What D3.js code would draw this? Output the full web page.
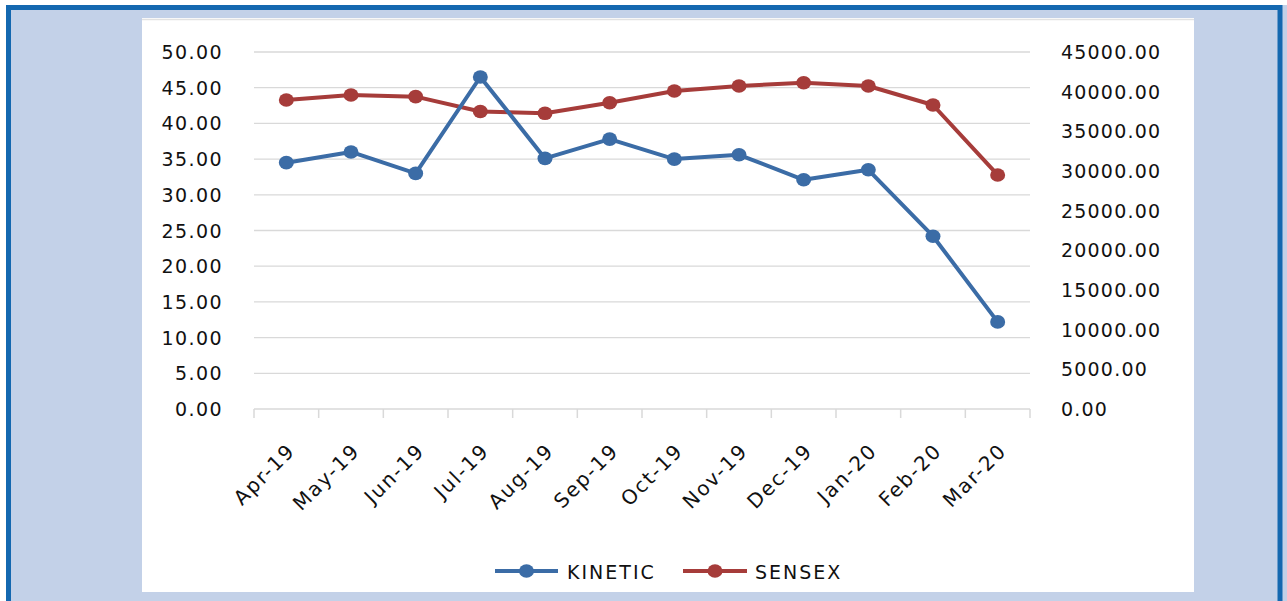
<!DOCTYPE html>
<html>
<head>
<meta charset="utf-8">
<script src="https://cdn.jsdelivr.net/npm/d3@7"></script>
<style>
  html, body { margin: 0; padding: 0; background: #ffffff; }
  svg { display: block; }
  text { font-family: "DejaVu Sans", Verdana, sans-serif; fill: #111111; }
</style>
</head>
<body>
<svg id="chart" width="1287" height="601"></svg>
<script>
const categories = ["Apr-19","May-19","Jun-19","Jul-19","Aug-19","Sep-19","Oct-19","Nov-19","Dec-19","Jan-20","Feb-20","Mar-20"];
const kinetic = [34.5, 36.0, 33.0, 46.5, 35.1, 37.8, 35.0, 35.6, 32.1, 33.5, 24.2, 12.2];
const sensex = [38950, 39580, 39370, 37500, 37270, 38610, 40080, 40710, 41130, 40710, 38320, 29500];
const leftTicks = [0, 5, 10, 15, 20, 25, 30, 35, 40, 45, 50];
const rightTicks = [0, 5000, 10000, 15000, 20000, 25000, 30000, 35000, 40000, 45000];
const seriesNames = ["KINETIC", "SENSEX"];

const BLUE = "#3b6ca6", RED = "#a63c3a";
const svg = d3.select("#chart");

// frame
svg.append("rect").attr("x", 6).attr("y", 5).attr("width", 1281).attr("height", 600).attr("fill", "#c3d1e8");
svg.append("rect").attr("x", 8.5).attr("y", 7.5).attr("width", 1271.5).attr("height", 600)
  .attr("fill", "none").attr("stroke", "#1468b0").attr("stroke-width", 5);
svg.append("rect").attr("x", 142).attr("y", 18).attr("width", 1052).attr("height", 574).attr("fill", "#ffffff");
svg.append("line").attr("x1", 142).attr("x2", 1194).attr("y1", 19.5).attr("y2", 19.5)
  .attr("stroke", "#e2e2e2").attr("stroke-width", 1.5);

const x = d3.scaleBand().domain(categories).range([254, 1030]).padding(0);
const yL = d3.scaleLinear().domain([0, 50]).range([409, 52]);
const yR = d3.scaleLinear().domain([0, 45000]).range([409, 52]);
const cx = d => x(d) + x.bandwidth() / 2;

// gridlines
svg.append("g").selectAll("line").data(leftTicks.filter(t => t > 0)).join("line")
  .attr("x1", 254).attr("x2", 1030)
  .attr("y1", d => yL(d)).attr("y2", d => yL(d))
  .attr("stroke", "#d9d9d9").attr("stroke-width", 1.3);

// x axis
const xAxis = svg.append("g").attr("transform", "translate(0,409)");
xAxis.append("line").attr("x1", 254).attr("x2", 1030).attr("y1", 0).attr("y2", 0)
  .attr("stroke", "#d9d9d9").attr("stroke-width", 1.5);
const bounds = categories.map(c => x(c)).concat([x(categories[categories.length - 1]) + x.bandwidth()]);
xAxis.selectAll("line.tick").data(bounds).join("line").attr("class", "tick")
  .attr("x1", d => d).attr("x2", d => d).attr("y1", 0).attr("y2", 9)
  .attr("stroke", "#d9d9d9").attr("stroke-width", 1.5);

svg.append("g").selectAll("text").data(categories).join("text")
  .attr("transform", d => `translate(${cx(d) + 10},${452}) rotate(-45)`)
  .attr("text-anchor", "end")
  .style("font-size", "20px").style("letter-spacing", "1.8px")
  .text(d => d);

// left labels
svg.append("g").selectAll("text").data(leftTicks).join("text")
  .attr("x", 223).attr("y", d => yL(d) + 7)
  .attr("text-anchor", "end")
  .style("font-size", "19px").style("letter-spacing", "1.4px")
  .text(d => d3.format(".2f")(d));

// right labels
svg.append("g").selectAll("text").data(rightTicks).join("text")
  .attr("x", 1061).attr("y", d => yR(d) + 7)
  .attr("text-anchor", "start")
  .style("font-size", "19px").style("letter-spacing", "1.2px")
  .text(d => d3.format(".2f")(d));

// lines
function drawSeries(values, scale, color) {
  const line = d3.line().x((d, i) => cx(categories[i])).y(d => scale(d));
  svg.append("path").datum(values).attr("d", line)
    .attr("fill", "none").attr("stroke", color).attr("stroke-width", 4)
    .attr("stroke-linejoin", "round");
  svg.append("g").selectAll("ellipse").data(values).join("ellipse")
    .attr("cx", (d, i) => cx(categories[i])).attr("cy", d => scale(d))
    .attr("rx", 7.5).attr("ry", 6.8).attr("fill", color);
}
drawSeries(sensex, yR, RED);
drawSeries(kinetic, yL, BLUE);

// legend
const legend = [
  { name: seriesNames[0], color: BLUE, x1: 495, x2: 558, tx: 567 },
  { name: seriesNames[1], color: RED, x1: 683, x2: 747, tx: 755 }
];
const lg = svg.append("g");
legend.forEach(l => {
  lg.append("line").attr("x1", l.x1).attr("x2", l.x2).attr("y1", 571).attr("y2", 571)
    .attr("stroke", l.color).attr("stroke-width", 4);
  lg.append("ellipse").attr("cx", (l.x1 + l.x2) / 2).attr("cy", 571).attr("rx", 7.5).attr("ry", 6.8).attr("fill", l.color);
  lg.append("text").attr("x", l.tx).attr("y", 578.5)
    .style("font-size", "19px").style("letter-spacing", "2px").text(l.name);
});
</script>
</body>
</html>
